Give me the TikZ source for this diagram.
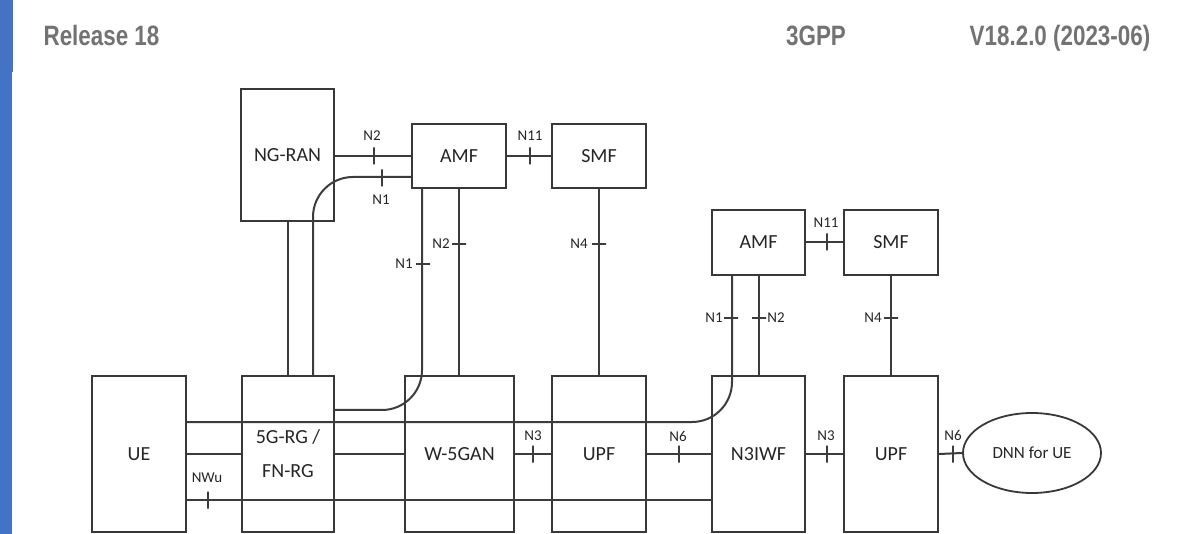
\documentclass[tikz,border=0pt]{standalone}
\usepackage{fontspec}
\usepackage{graphicx}
\setmainfont{Carlito}
\newfontfamily\hdrfont{Liberation Sans}
\usetikzlibrary{shapes.geometric}
\definecolor{boxc}{HTML}{383838}
\definecolor{linec}{HTML}{3C3C3C}
\definecolor{txtc}{HTML}{262626}
\definecolor{hdrc}{HTML}{737373}
\definecolor{barc}{HTML}{4472C4}
\begin{document}
\begin{tikzpicture}[x=1pt,y=-1pt,
  box/.style={draw=boxc, line width=2.2pt, fill=white, inner sep=0pt, text=txtc,
    font=\fontsize{20}{34}\selectfont, align=center},
  conn/.style={draw=linec, line width=2pt},
  vt/.style={draw=linec, line width=1.8pt, line join=bevel, inner sep=0pt, minimum width=0pt, minimum height=17pt, shape=rectangle},
  ht/.style={draw=linec, line width=1.8pt, line join=bevel, inner sep=0pt, minimum width=14pt, minimum height=0pt, shape=rectangle},
  lab/.style={text=txtc, font=\fontsize{15}{15}\selectfont, inner sep=0pt},
  hdr/.style={text=hdrc, font=\hdrfont\bfseries\fontsize{28}{30}\selectfont, inner sep=0pt, anchor=base}
]
\useasboundingbox (0,0) rectangle (1178,534);
\fill[white] (0,0) rectangle (1178,534);
\fill[barc] (0,0) rectangle (13,72);
\fill[barc] (0,72) rectangle (12,534);

% header
\node[hdr] (h1) at (101.5,46) {\scalebox{0.8}[1]{Release 18}};
\node[hdr] (h2) at (816,46) {\scalebox{0.8}[1]{3GPP}};
\node[hdr] (h3) at (1060,46) {\scalebox{0.8}[1]{V18.2.0 (2023-06)}};

% boxes
\node[box, minimum width=93pt, minimum height=132pt] (NGRAN) at (287.5,155) {NG-RAN};
\node[box, minimum width=94pt, minimum height=64pt] (AMF1) at (459,156) {AMF};
\node[box, minimum width=94pt, minimum height=64pt] (SMF1) at (599,156) {SMF};
\node[box, minimum width=93pt, minimum height=65pt] (AMF2) at (758.5,242.5) {AMF};
\node[box, minimum width=94pt, minimum height=65pt] (SMF2) at (891,242.5) {SMF};
\node[box, minimum width=94pt, minimum height=156pt] (UE) at (139,454) {UE};
\node[box, minimum width=92pt, minimum height=156pt] (RG) at (288,454) {5G-RG /\\FN-RG};
\node[box, minimum width=109pt, minimum height=156pt] (W5GAN) at (459.5,454) {W-5GAN};
\node[box, minimum width=94pt, minimum height=156pt] (UPF1) at (599,454) {UPF};
\node[box, minimum width=93pt, minimum height=156pt] (N3IWF) at (758.5,454) {N3IWF};
\node[box, minimum width=94pt, minimum height=156pt] (UPF2) at (891,454) {UPF};
\node[box, ellipse, minimum width=138pt, minimum height=80pt, line width=1.8pt,
  font=\fontsize{17}{20}\selectfont] (DNN) at (1032,453) {DNN for UE};

% connectors
\draw[conn] (AMF1.west -| NGRAN.east) -- (AMF1.west);
\draw[conn, rounded corners=40pt] ([xshift=25pt]RG.north) |- ([yshift=-21pt]AMF1.west);
\draw[conn] (AMF1.east) -- (SMF1.west);
\draw[conn] (NGRAN.south) -- (NGRAN.south |- RG.north);
\draw[conn, rounded corners=40pt] ([xshift=-37pt]AMF1.south) |- ([yshift=44pt]RG.east);
\draw[conn] (AMF1.south) -- (AMF1.south |- W5GAN.north);
\draw[conn] (SMF1.south) -- (UPF1.north);
\draw[conn] (AMF2.east) -- (SMF2.west);
\draw[conn] (AMF2.south) -- (N3IWF.north);
\draw[conn] (SMF2.south) -- (UPF2.north);
\draw[conn, rounded corners=40pt] ([yshift=32pt]UE.east) -| ([xshift=-26.5pt]AMF2.south);
\draw[conn] ([yshift=-46pt]UE.east) -- ([yshift=-46pt]N3IWF.west);
\draw[conn] (UE.east) -- (RG.west);
\draw[conn] (RG.east) -- (W5GAN.west);
\draw[conn] (W5GAN.east) -- (UPF1.west);
\draw[conn] (UPF1.east) -- (N3IWF.west);
\draw[conn] (N3IWF.east) -- (UPF2.west);
\draw[conn] (UPF2.east) -- (DNN.west);

% ticks
\node[vt] (t1) at (374,156) {};
\node[vt] (t2) at (382,178) {};
\node[vt] (t3) at (530,156) {};
\node[ht] (t4) at (459,244) {};
\node[ht] (t5) at (423,264) {};
\node[ht] (t6) at (599,244) {};
\node[ht] (t7) at (731,318) {};
\node[ht] (t8) at (759,318) {};
\node[vt] (t9) at (827,242) {};
\node[ht] (t10) at (891,318) {};
\node[vt] (t11) at (208,500) {};
\node[vt] (t12) at (533,454) {};
\node[vt] (t13) at (679,454) {};
\node[vt] (t14) at (827,454) {};
\node[vt] (t15) at (953,454) {};

% labels
\node[lab] at (372,136) {N2};
\node[lab] at (381,200) {N1};
\node[lab] at (530,136) {N11};
\node[lab] at (441,244) {N2};
\node[lab] at (404,264) {N1};
\node[lab] at (579,244) {N4};
\node[lab] at (714,318) {N1};
\node[lab] at (776,318) {N2};
\node[lab] at (826,223) {N11};
\node[lab] at (873,318) {N4};
\node[lab] at (207,478) {NWu};
\node[lab] at (533,436) {N3};
\node[lab] at (678,436) {N6};
\node[lab] at (826,436) {N3};
\node[lab] at (953,435) {N6};
\end{tikzpicture}
\end{document}
